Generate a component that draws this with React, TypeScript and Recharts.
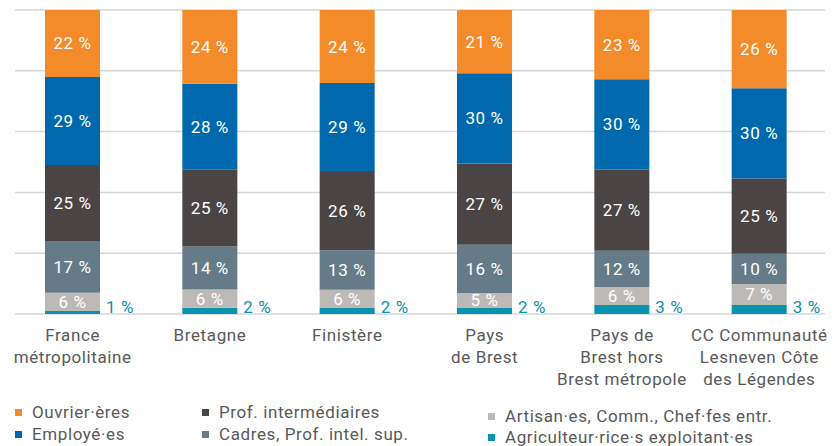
import { BarChart, Bar, XAxis, YAxis, CartesianGrid, LabelList } from 'recharts';

if (typeof document !== 'undefined') document.body.style.margin = '0';

const categories = [
  'France métropolitaine',
  'Bretagne',
  'Finistère',
  'Pays de Brest',
  'Pays de Brest hors Brest métropole',
  'CC Communauté Lesneven Côte des Légendes',
];
const tickLines = [
  ['France', 'métropolitaine'],
  ['Bretagne'],
  ['Finistère'],
  ['Pays', 'de Brest'],
  ['Pays de', 'Brest hors', 'Brest métropole'],
  ['CC Communauté', 'Lesneven Côte', 'des Légendes'],
];

const agriculteurs = [1, 2, 2, 2, 3, 3];
const artisans = [6, 6, 6, 5, 6, 7];
const cadres = [17, 14, 13, 16, 12, 10];
const profInter = [25, 25, 26, 27, 27, 25];
const employes = [29, 28, 29, 30, 30, 30];
const ouvriers = [22, 24, 24, 21, 23, 26];

const yTicks = [0, 0.2, 0.4, 0.6, 0.8, 1];

const series = [
  { key: 'agri', name: 'Agriculteur·rice·s exploitant·es', values: agriculteurs, color: '#0a93ae' },
  { key: 'artisan', name: 'Artisan·es, Comm., Chef·fes entr.', values: artisans, color: '#bdb9b7' },
  { key: 'cadres', name: 'Cadres, Prof. intel. sup.', values: cadres, color: '#667b88' },
  { key: 'prof', name: 'Prof. intermédiaires', values: profInter, color: '#4a4544' },
  { key: 'employes', name: 'Employé·es', values: employes, color: '#0069ad' },
  { key: 'ouvriers', name: 'Ouvrier·ères', values: ouvriers, color: '#f38b2a' },
];

const data = categories.map((name, i) => {
  const row: Record<string, any> = { name, idx: i };
  series.forEach((s) => (row[s.key] = s.values[i]));
  return row;
});

// legend layout: three columns of two
const legendCols = [
  { x: 15, top: 402, gap: 22, keys: ['ouvriers', 'employes'] },
  { x: 202, top: 402, gap: 22, keys: ['prof', 'cadres'] },
  { x: 488, top: 406, gap: 21, keys: ['artisan', 'agri'] },
];

const font = 'Roboto, "Noto Sans", sans-serif';
const spacing = 0.6;

function CategoryTick({ x, y, payload }: any) {
  const lines = tickLines[payload.index] ?? [payload.value];
  return (
    <text x={x} y={y} textAnchor="middle" fill="#595959" fontSize={17} fontFamily={font} letterSpacing={spacing}>
      {lines.map((l, i) => (
        <tspan key={i} x={x} dy={i === 0 ? 19 : 22}>
          {l}
        </tspan>
      ))}
    </text>
  );
}

function AgriLabel({ x, y, width, height, value }: any) {
  return (
    <text x={x + width + 6} y={y + height - 1} fill="#0a93ae" fontSize={17} fontFamily={font} letterSpacing={spacing}>
      {`${value} %`}
    </text>
  );
}

export default function App() {
  return (
    <div style={{ position: 'relative', width: 835, height: 446, fontFamily: font }}>
      <BarChart
        width={835}
        height={446}
        data={data}
        stackOffset="expand"
        margin={{ top: 10, right: 7, left: 4, bottom: 0 }}
      >
        <CartesianGrid
          vertical={false}
          horizontal={(p: any) => (
            <line
              key={`h-${p.index}`}
              x1={p.x1 + 11}
              y1={p.y1}
              x2={p.x2 - 3}
              y2={p.y2}
              stroke="#d6d6d6"
              strokeWidth={1.5}
            />
          )}
        />
        <XAxis
          dataKey="name"
          axisLine={false}
          tickLine={false}
          interval={0}
          height={132}
          tick={<CategoryTick />}
        />
        <YAxis hide domain={[0, 1]} ticks={yTicks} />
        {series.map((s) => (
          <Bar
            key={s.key}
            dataKey={s.key}
            name={s.name}
            stackId="a"
            fill={s.color}
            barSize={55}
            isAnimationActive={false}
          >
            {s.key === 'agri' ? (
              <LabelList dataKey={s.key} content={<AgriLabel />} />
            ) : (
              <LabelList
                dataKey={s.key}
                position="center"
                fill="#ffffff"
                fontSize={17}
                fontFamily={font}
                letterSpacing={spacing}
                formatter={(v: any) => `${v} %`}
              />
            )}
          </Bar>
        ))}
      </BarChart>
      {legendCols.map((col, ci) =>
        col.keys.map((k, ri) => {
          const s = series.find((x) => x.key === k)!;
          return (
            <div
              key={`${ci}-${ri}`}
              style={{
                position: 'absolute',
                left: col.x,
                top: col.top + ri * col.gap,
                height: 20,
                display: 'flex',
                alignItems: 'center',
                fontSize: 17,
                letterSpacing: spacing,
                color: '#595959',
                whiteSpace: 'nowrap',
              }}
            >
              <span style={{ display: 'inline-block', width: 7, height: 7, background: s.color, marginRight: 10 }} />
              {s.name}
            </div>
          );
        })
      )}
    </div>
  );
}
